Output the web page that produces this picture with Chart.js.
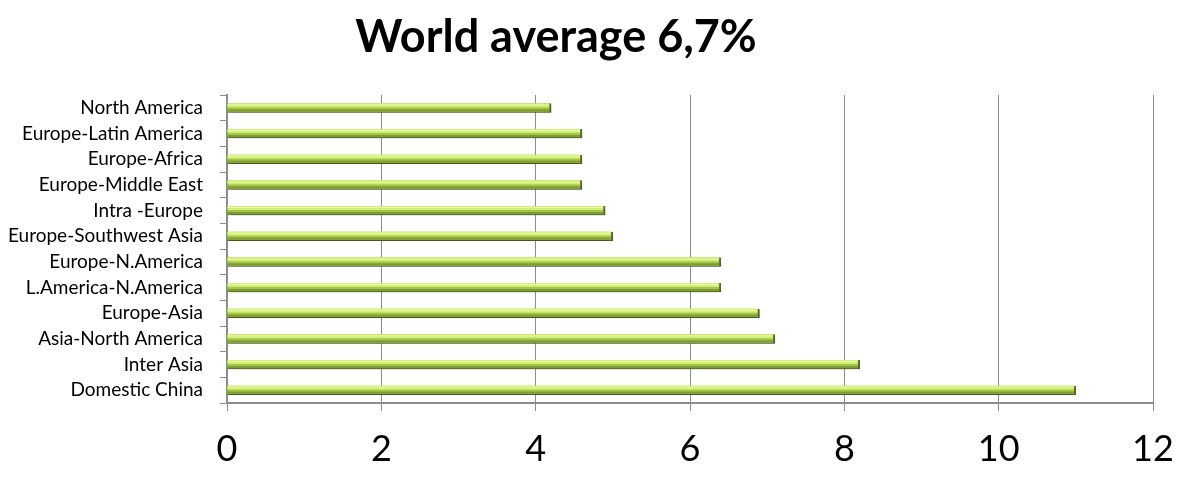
<!DOCTYPE html>
<html>
<head>
<meta charset="utf-8">
<script src="https://cdn.jsdelivr.net/npm/chart.js@4/dist/chart.umd.min.js"></script>
<style>
  html, body { margin: 0; padding: 0; background: #fff; }
  #wrap { width: 1182px; height: 486px; position: relative; }
</style>
</head>
<body>
<div id="wrap"><canvas id="grafico"></canvas></div>
<script>
// Dados do gráfico
const tituloGrafico = 'World average 6,7%';
const rotas = [
    'North America', 'Europe-Latin America', 'Europe-Africa', 'Europe-Middle East',
    'Intra -Europe', 'Europe-Southwest Asia', 'Europe-N.America', 'L.America-N.America',
    'Europe-Asia', 'Asia-North America', 'Inter Asia', 'Domestic China'
];
const crescimento = [4.2, 4.6, 4.6, 4.6, 4.9, 5.0, 6.4, 6.4, 6.9, 7.1, 8.2, 11.0];
const eixoMin = 0;
const eixoMax = 12;
const eixoPasso = 2;

// Título desenhado à mão (fica um pouco à esquerda do centro, como no original)
const pluginTitulo = {
    id: 'tituloMundo',
    afterDraw(chart) {
        const ctx = chart.ctx;
        ctx.save();
        ctx.font = 'bold 45px Lato, "Open Sans", sans-serif';
        ctx.fillStyle = '#000';
        ctx.textAlign = 'center';
        ctx.textBaseline = 'alphabetic';
        ctx.fillText(tituloGrafico, 556, 52);
        ctx.restore();
    }
};

// Sombra por baixo das barras + brilho em cima
const pluginSombra = {
    id: 'sombraBarras',
    beforeDatasetsDraw(chart) {
        const ctx = chart.ctx;
        ctx.save();
        ctx.shadowColor = 'rgba(0,0,0,0.3)';
        ctx.shadowBlur = 6;
        ctx.shadowOffsetX = 2;
        ctx.shadowOffsetY = 5;
    },
    afterDatasetsDraw(chart) {
        const ctx = chart.ctx;
        ctx.restore();
        const meta = chart.getDatasetMeta(0);
        ctx.save();
        meta.data.forEach(bar => {
            const topo = bar.y - bar.height / 2;
            const esq = Math.min(bar.x, bar.base);
            const larg = Math.abs(bar.x - bar.base) - 2;
            ctx.fillStyle = '#d2ee78';
            ctx.fillRect(esq, topo, larg, 4);
            ctx.fillStyle = '#e8fba6';
            ctx.fillRect(esq, topo + 1, larg, 1);
            ctx.fillStyle = '#7f9c34';
            ctx.fillRect(esq, topo + 6, larg, 2);
        });
        ctx.restore();
    }
};

new Chart(document.getElementById('grafico'), {
    type: 'bar',
    data: {
        labels: rotas,
        datasets: [{
            data: crescimento,
            backgroundColor: '#a3c548',
            borderColor: '#5a7226',
            borderWidth: { top: 0, left: 0, bottom: 1, right: 2 },
            borderSkipped: false,
            barThickness: 9
        }]
    },
    options: {
        indexAxis: 'y',
        responsive: true,
        maintainAspectRatio: false,
        animation: false,
        layout: { padding: { top: 95, right: 29, left: 0, bottom: 0 } },
        plugins: {
            legend: { display: false },
            title: { display: false },
            tooltip: { enabled: false }
        },
        scales: {
            x: {
                min: eixoMin,
                max: eixoMax,
                ticks: {
                    stepSize: eixoPasso,
                    color: '#000',
                    padding: 17,
                    font: { family: 'Lato, "Open Sans", sans-serif', size: 36 }
                },
                grid: { color: '#8c8c8c', lineWidth: 1, tickLength: 8 },
                border: { color: '#8c8c8c', width: 2 },
                afterFit(s) {
                    s.height = 83;
                    s.paddingRight = 0;
                    s.paddingLeft = 0;
                }
            },
            y: {
                ticks: {
                    color: '#000',
                    padding: 17,
                    autoSkip: false,
                    font: { family: 'Lato, "Open Sans", sans-serif', size: 19 }
                },
                grid: { drawOnChartArea: false, offset: true, color: '#8c8c8c', tickLength: 7 },
                border: { color: '#8c8c8c', width: 2 },
                afterFit(s) {
                    s.width = 227;
                    s.paddingTop = 0;
                    s.paddingBottom = 0;
                }
            }
        }
    },
    plugins: [pluginTitulo, pluginSombra]
});
</script>
</body>
</html>
